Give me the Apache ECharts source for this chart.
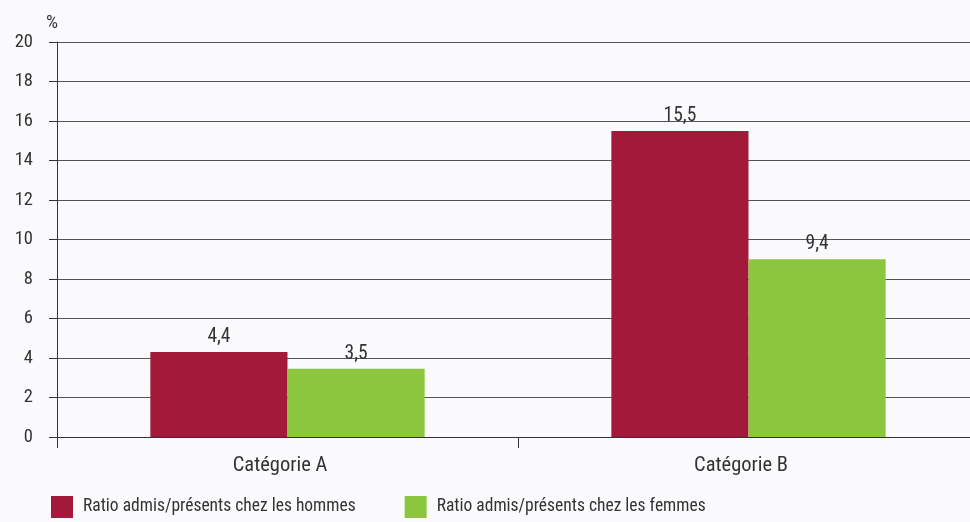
<!DOCTYPE html>
<html><head><meta charset="utf-8">
<script src="https://cdn.jsdelivr.net/npm/echarts@6/dist/echarts.min.js"></script>
<style>html,body{margin:0;padding:0;background:#fbfbfd;overflow:hidden}#c{width:980px;height:522px}</style>
</head><body><div id="c"></div>
<script>
const categories = ['Catégorie A', 'Catégorie B'];
const seriesNames = ['Ratio admis/présents chez les hommes', 'Ratio admis/présents chez les femmes'];
const hommes = [4.3, 15.5];
const femmes = [3.45, 9.0];
const hommesLabels = ['4,4', '15,5'];
const femmesLabels = ['3,5', '9,4'];
const yTicks = [0, 2, 4, 6, 8, 10, 12, 14, 16, 18, 20];

const FONT = "'Liberation Sans Narrow', 'Roboto Condensed', 'Roboto', sans-serif";
const TXT = '#333333';
const chart = echarts.init(document.getElementById('c'));
function lbl(arr){ return {show:true, position:'top', distance:5, color:TXT, fontFamily:FONT, fontSize:19.5,
  formatter: p => arr[p.dataIndex]}; }
chart.setOption({
  backgroundColor:'#fbfbfd',
  animation:false,
  grid:{left:57, right:1, top:42, bottom:85},
  legend:{left:51, top:496, padding:0, itemWidth:22, itemHeight:22, itemGap:49, icon:'rect',
    textStyle:{color:TXT, fontFamily:FONT, fontSize:17.5, padding:[0,0,0,5]}},
  xAxis:{type:'category', data:categories,
    axisLine:{lineStyle:{color:'#333', width:1}},
    axisTick:{show:true, length:11, lineStyle:{color:'#333'}},
    axisLabel:{color:TXT, fontFamily:FONT, fontSize:20.5, margin:18, padding:[0,15,0,0]}},
  yAxis:{type:'value', min:yTicks[0], max:yTicks[yTicks.length-1], interval:2,
    name:'%', nameLocation:'end', nameGap:9,
    nameTextStyle:{color:TXT, fontFamily:FONT, fontSize:19, align:'right', padding:[0,-1,0,0]},
    axisLine:{show:true, lineStyle:{color:'#333'}},
    axisTick:{show:true, length:8, lineStyle:{color:'#333'}},
    axisLabel:{color:TXT, fontFamily:FONT, fontSize:18.5, margin:24},
    splitLine:{lineStyle:{color:'#555', width:1.2}}},
  series:[
    {name:seriesNames[0], type:'bar', data:hommes, barGap:'0%', barCategoryGap:'40.5%',
     itemStyle:{color:'#a3193a'}, label:lbl(hommesLabels)},
    {name:seriesNames[1], type:'bar', data:femmes,
     itemStyle:{color:'#8cc63e'}, label:lbl(femmesLabels)}
  ]
});
</script></body></html>
